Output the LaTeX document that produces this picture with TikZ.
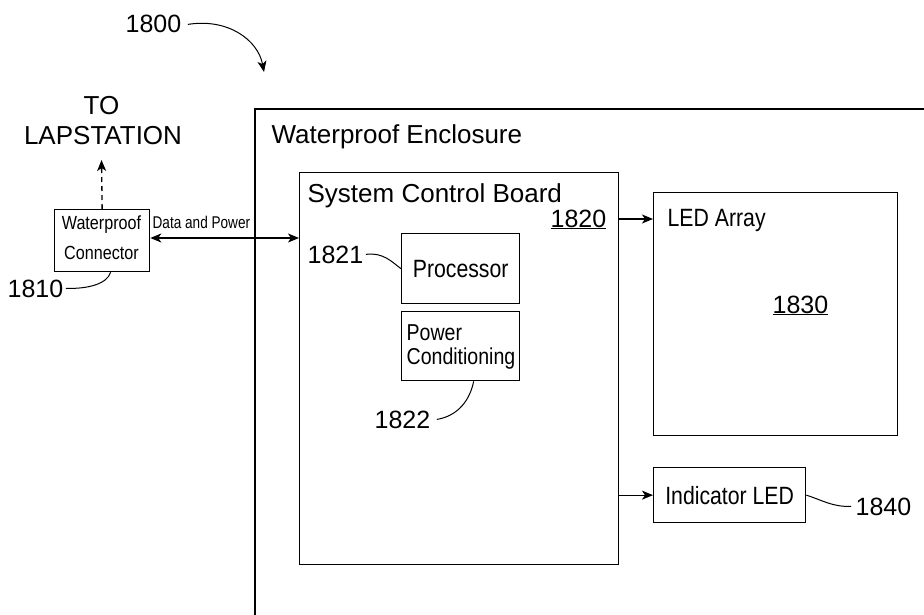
\documentclass[tikz,border=0pt]{standalone}
\usepackage{fontspec}
\setmainfont{Liberation Sans}
\newfontfamily\narrowfont[FakeStretch=0.85]{Liberation Sans}
\newfontfamily\narrowerfont[FakeStretch=0.8]{Liberation Sans}
\usetikzlibrary{arrows.meta}
\begin{document}
\begin{tikzpicture}[x=1pt,y=-1pt,line width=1.3pt,
  box/.style={draw,inner sep=0pt,anchor=north west},
  tip/.style={-{Stealth[length=11pt,width=9pt,inset=3pt]}},
  dtip/.style={{Stealth[length=11pt,width=9pt,inset=3pt]}-{Stealth[length=11pt,width=9pt,inset=3pt]}},
  lead/.style={line width=1pt},
  lbl/.style={inner sep=0pt,font=\fontsize{26}{30}\selectfont},
  num/.style={inner sep=0pt,anchor=base west,font=\fontsize{25}{30}\selectfont},
  nlbl/.style={inner sep=0pt,font=\narrowfont\fontsize{25}{30}\selectfont}]
\useasboundingbox (0,0) rectangle (924,615);
\fill[white] (0,0) rectangle (924,615);
% enclosure (runs off the right and bottom edges)
\draw (255,615) -- (255,109) -- (924,109);
% boxes
\node[box,minimum width=95pt,minimum height=62pt] (wc) at (54,209) {};
\node[box,minimum width=319pt,minimum height=392pt] (scb) at (299,172) {};
\node[box,minimum width=118pt,minimum height=70pt,nlbl,inner sep=0pt] (proc) at (401,233) {Processor};
\node[box,minimum width=118pt,minimum height=69pt] (pc) at (401,311) {};
\node[box,minimum width=244pt,minimum height=243pt] (led) at (653,192) {};
\node[box,minimum width=152pt,minimum height=55pt,nlbl,inner sep=0pt] (ind) at (653,467) {Indicator LED};
% texts
\node[inner sep=0pt,anchor=base,font=\narrowfont\fontsize{19}{30}\selectfont] (wct1) at (101.5,229) {Waterproof};
\node[inner sep=0pt,anchor=base,font=\narrowfont\fontsize{19}{30}\selectfont] (wct2) at (101.5,259) {Connector};
\node[lbl,anchor=base west] (encl) at (271,143.5) {Waterproof Enclosure};
\node[lbl,anchor=base west] (scbt) at (307,202.5) {System Control Board};
\node[nlbl,anchor=base west,font=\narrowfont\fontsize{23}{30}\selectfont] (pw) at (406,340) {Power};
\node[nlbl,anchor=base west,font=\narrowfont\fontsize{23}{30}\selectfont] (cond) at (406,364) {Conditioning};
\node[nlbl,anchor=base west] (leda) at (667,226) {LED Array};
\node[inner sep=0pt,anchor=base west,font=\narrowerfont\fontsize{17}{20}\selectfont] (dp) at (152,228) {Data and Power};
\node[lbl,anchor=base] (to) at (101.5,115) {TO};
\node[lbl,anchor=base] (lap) at (103,145) {LAPSTATION};
\node[num] (n1800) at (125,33) {1800};
\node[num] (n1810) at (7,297) {1810};
\node[num] (n1821) at (307,263) {1821};
\node[num] (n1822) at (374,428) {1822};
\node[num] (n1820) at (550,227) {\underline{1820}};
\node[num] (n1830) at (772,313) {\underline{1830}};
\node[num] (n1840) at (855,515) {1840};
% connectors
\coordinate (lapend) at (101.5,160);
\draw[tip,dashed,dash pattern=on 5pt off 4pt] (wc.north) -- (lapend);
\draw[dtip] (wc.east |- 0,238) -- (scb.west |- 0,238);
\coordinate (a1820) at (618,219);
\draw[tip] (a1820) -- (a1820 -| led.west);
\draw[tip] (scb.east |- ind.west) -- (ind.west);
% leaders
\coordinate (p1800) at (264,72);
\draw[tip,lead] ([xshift=6pt]n1800.east) .. controls (228,18) and (258,40) .. (p1800);
\draw[lead] ([xshift=2pt]n1810.east) .. controls (88,289) and (107,284) .. ([xshift=8.5pt]wc.south);
\draw[lead] ([xshift=2pt]n1821.east) .. controls (383,252) and (392,262) .. (proc.west);
\draw[lead] ([xshift=6pt]n1822.east) .. controls (458,416) and (470,400) .. ([xshift=13pt]pc.south);
\draw[lead] (ind.east) .. controls (822,500) and (832,507) .. ([xshift=-4pt]n1840.west);
\end{tikzpicture}
\end{document}
